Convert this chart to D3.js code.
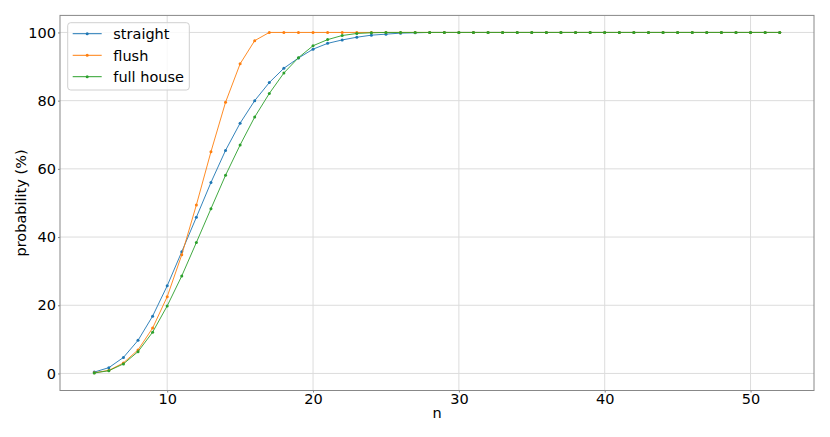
<!DOCTYPE html>
<html><head><meta charset="utf-8">
<script src="https://cdn.jsdelivr.net/npm/d3@7/dist/d3.min.js"></script>
<style>
body{margin:0;background:#fff;}
text{font-family:"DejaVu Sans",sans-serif;fill:#000;}
</style></head>
<body><svg id="c" width="830" height="437"></svg>
<script>
const nValues = d3.range(5, 53);
const straight = [0.4,1.7,4.7,9.7,16.8,25.7,35.7,45.8,56.0,65.4,73.4,80.0,85.3,89.5,92.5,95.1,96.8,97.8,98.6,99.2,99.5,99.8,99.9,100,100,100,100,100,100,100,100,100,100,100,100,100,100,100,100,100,100,100,100,100,100,100,100,100];
const flush = [0.2,0.9,3.1,6.9,13.3,22.5,34.8,49.4,65.0,79.5,90.8,97.6,100,100,100,100,100,100,100,100,100,100,100,100,100,100,100,100,100,100,100,100,100,100,100,100,100,100,100,100,100,100,100,100,100,100,100,100];
const fullHouse = [0.15,0.8,2.8,6.4,12.1,19.8,28.6,38.4,48.3,58.1,67.0,75.2,82.1,88.1,92.6,96.1,97.9,99.1,99.7,99.9,100,100,100,100,100,100,100,100,100,100,100,100,100,100,100,100,100,100,100,100,100,100,100,100,100,100,100,100];
const seriesNames = ["straight","flush","full house"];
const colors = ["#1f77b4","#ff7f0e","#2ca02c"];
const xTicks = [10,20,30,40,50];
const yTicks = [0,20,40,60,80,100];

const svg = d3.select("#c");
const L=60, R=814, T=15.4, B=390.5;
const x = d3.scaleLinear().domain([2.65,54.35]).range([L,R]);
const y = d3.scaleLinear().domain([-5,105]).range([B,T]);
const fs = 14.5;

// grid
const g = svg.append("g");
g.selectAll(".gx").data(xTicks).enter().append("line")
  .attr("x1",d=>x(d)).attr("x2",d=>x(d)).attr("y1",T).attr("y2",B)
  .attr("stroke","#dcdcdc").attr("stroke-width",1);
g.selectAll(".gy").data(yTicks).enter().append("line")
  .attr("y1",d=>y(d)).attr("y2",d=>y(d)).attr("x1",L).attr("x2",R)
  .attr("stroke","#dcdcdc").attr("stroke-width",1);

// axes
const xAxis = d3.axisBottom(x).tickValues(xTicks).tickSize(2).tickPadding(1);
const yAxis = d3.axisLeft(y).tickValues(yTicks).tickSize(2).tickPadding(2);
const xa = svg.append("g").attr("transform",`translate(0,${B})`).call(xAxis);
const ya = svg.append("g").attr("transform",`translate(${L},0)`).call(yAxis);
[xa,ya].forEach(a=>{
  a.select(".domain").remove();
  a.selectAll("line").attr("stroke","#888");
  a.selectAll("text").style("font-family","DejaVu Sans").style("font-size",fs+"px").attr("fill","#000");
});

// frame
svg.append("rect").attr("x",L).attr("y",T).attr("width",R-L).attr("height",B-T)
  .attr("fill","none").attr("stroke","#888").attr("stroke-width",1);

// series
const data = [straight, flush, fullHouse];
const line = d3.line().x((d,i)=>x(nValues[i])).y(d=>y(d));
data.forEach((s,k)=>{
  svg.append("path").datum(s).attr("d",line).attr("fill","none")
    .attr("stroke",colors[k]).attr("stroke-width",1).attr("opacity",0.9);
  svg.append("g").selectAll("circle").data(s).enter().append("circle")
    .attr("cx",(d,i)=>x(nValues[i])).attr("cy",d=>y(d)).attr("r",1.5)
    .attr("fill",colors[k]);
});

// labels
svg.append("text").attr("x",(L+R)/2).attr("y",418).attr("text-anchor","middle")
  .style("font-size",fs+"px").text("n");
svg.append("text").attr("transform",`translate(26,${(T+B)/2}) rotate(-90)`)
  .attr("text-anchor","middle").style("font-size",fs+"px").text("probability (%)");

// legend
const lg = svg.append("g");
lg.append("rect").attr("x",67.7).attr("y",22.7).attr("width",121.6).attr("height",67.3)
  .attr("rx",3).attr("fill","#fff").attr("fill-opacity",0.8).attr("stroke","#d0d0d0");
const rows=[33.7,55.3,76.7];
seriesNames.forEach((nm,k)=>{
  lg.append("line").attr("x1",72.7).attr("x2",101.7).attr("y1",rows[k]).attr("y2",rows[k])
    .attr("stroke",colors[k]).attr("stroke-width",1);
  lg.append("circle").attr("cx",87.2).attr("cy",rows[k]).attr("r",1.5).attr("fill",colors[k]);
  lg.append("text").attr("x",113.3).attr("y",rows[k]+5.3).style("font-size",fs+"px").text(nm);
});
</script></body></html>
